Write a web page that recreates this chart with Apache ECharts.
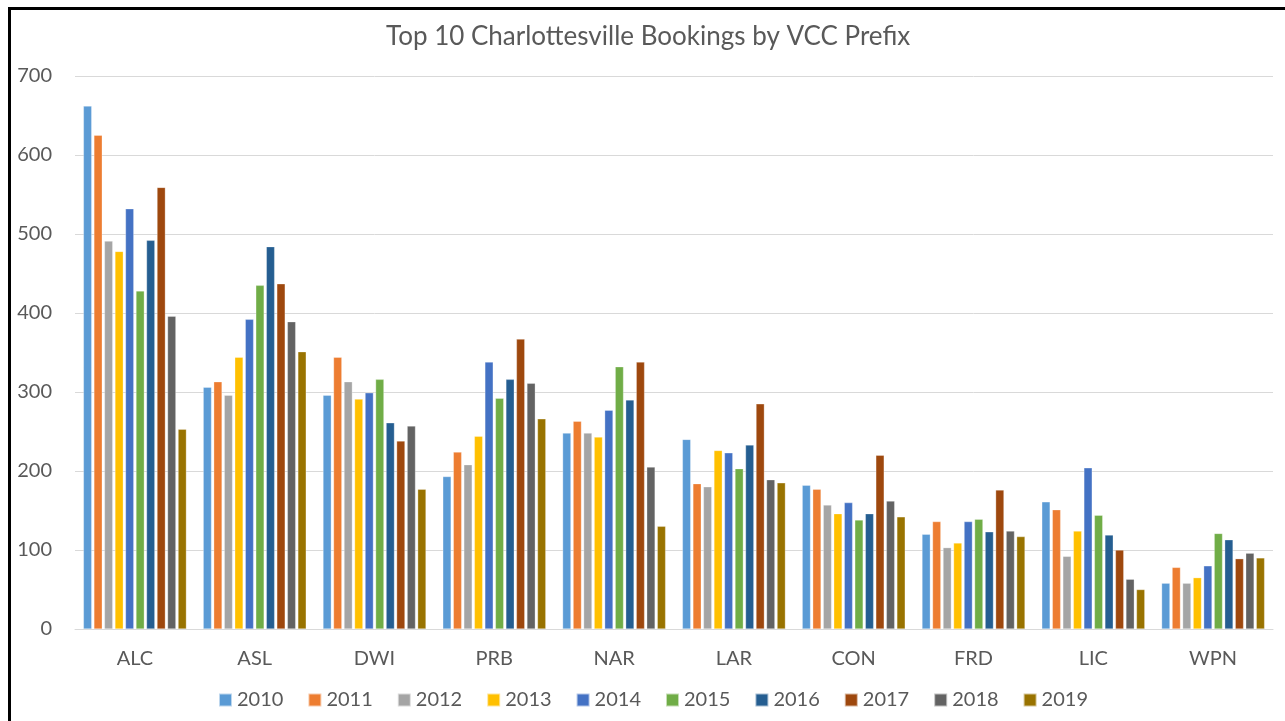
<!DOCTYPE html>
<html>
<head>
<meta charset="utf-8">
<script src="https://cdn.jsdelivr.net/npm/echarts@6/dist/echarts.min.js"></script>
<style>
  html, body { margin: 0; padding: 0; background: #fff; }
  #chart { width: 1285px; height: 721px; }
  .frame {
    position: absolute;
    left: 8px;
    top: 7px;
    width: 1285px;
    height: 721px;
    border-top: 3px solid #000;
    border-left: 3px solid #000;
    pointer-events: none;
  }
</style>
</head>
<body>
<div id="chart"></div>
<div class="frame"></div>
<script>
const prefixes = ['ALC', 'ASL', 'DWI', 'PRB', 'NAR', 'LAR', 'CON', 'FRD', 'LIC', 'WPN']
const years = ['2010', '2011', '2012', '2013', '2014', '2015', '2016', '2017', '2018', '2019']
const colors = ['#5b9bd5', '#ed7d31', '#a5a5a5', '#ffc000', '#4472c4', '#70ad47', '#255e91', '#9e480e', '#636363', '#997300']

// one array per year, in prefix order
const y2010 = [662, 306, 296, 193, 248, 240, 182, 120, 161, 58]
const y2011 = [625, 313, 344, 224, 263, 184, 177, 136, 151, 78]
const y2012 = [491, 296, 313, 208, 248, 180, 157, 103, 92, 58]
const y2013 = [478, 344, 291, 244, 243, 226, 146, 109, 124, 65]
const y2014 = [532, 392, 299, 338, 277, 223, 160, 136, 204, 80]
const y2015 = [428, 435, 316, 292, 332, 203, 138, 139, 144, 121]
const y2016 = [492, 484, 261, 316, 290, 233, 146, 123, 119, 113]
const y2017 = [559, 437, 238, 367, 338, 285, 220, 176, 100, 89]
const y2018 = [396, 389, 257, 311, 205, 189, 162, 124, 63, 96]
const y2019 = [253, 351, 177, 266, 130, 185, 142, 117, 50, 90]
const yearData = [y2010, y2011, y2012, y2013, y2014, y2015, y2016, y2017, y2018, y2019]

const yTicks = [0, 100, 200, 300, 400, 500, 600, 700]

const font = 'Lato, "Open Sans", sans-serif'
const myChart = echarts.init(document.getElementById('chart'))

const option = {
  animation: false,
  color: colors,
  textStyle: { fontFamily: font },
  title: {
    text: 'Top 10 Charlottesville Bookings by VCC Prefix',
    left: 381,
    top: 19,
    textStyle: { color: '#595959', fontSize: 26, fontWeight: 'normal', fontFamily: font }
  },
  legend: {
    data: years,
    bottom: 6,
    left: 213,
    itemWidth: 13,
    itemHeight: 13,
    itemGap: 24,
    icon: 'rect',
    textStyle: { color: '#595959', fontSize: 20, fontFamily: font }
  },
  grid: {
    left: 75,
    right: 12,
    top: 76,
    bottom: 92,
    containLabel: false
  },
  xAxis: {
    type: 'category',
    data: prefixes,
    axisLine: { lineStyle: { color: '#d9d9d9' } },
    axisTick: { show: false },
    axisLabel: { color: '#595959', fontSize: 20, margin: 20, fontFamily: font }
  },
  yAxis: {
    type: 'value',
    min: yTicks[0],
    max: yTicks[yTicks.length - 1],
    interval: 100,
    axisLine: { show: false },
    axisTick: { show: false },
    splitLine: { lineStyle: { color: '#d9d9d9', width: 1 } },
    axisLabel: { color: '#595959', fontSize: 20, margin: 23, align: 'right', fontFamily: font }
  },
  series: years.map((yr, i) => ({
    name: yr,
    type: 'bar',
    data: yearData[i],
    barGap: '26%',
    barCategoryGap: '14%',
    itemStyle: { color: colors[i], borderColor: 'rgba(255,255,255,0.6)', borderWidth: 0.5 }
  }))
}

myChart.setOption(option)
</script>
</body>
</html>
